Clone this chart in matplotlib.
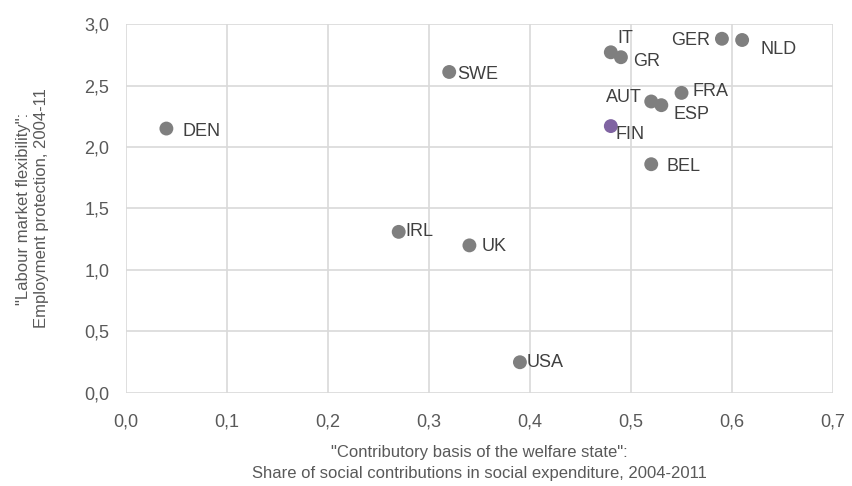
import matplotlib

matplotlib.use("Agg")
import matplotlib.pyplot as plt
from matplotlib.ticker import FuncFormatter

# values
countries = ["DEN", "SWE", "IRL", "UK", "USA", "IT", "GR", "GER", "NLD",
             "AUT", "FRA", "ESP", "FIN", "BEL"]
contrib_share = [0.04, 0.32, 0.27, 0.34, 0.39, 0.48, 0.49, 0.59, 0.61,
                 0.52, 0.55, 0.53, 0.48, 0.52]
employment_protection = [2.15, 2.61, 1.31, 1.20, 0.25, 2.77, 2.73, 2.88, 2.87,
                         2.37, 2.44, 2.34, 2.17, 1.86]
highlight = "FIN"

# label offsets in points, horizontal alignment
label_pos = {
    "DEN": (11.5, -2, "left"), "SWE": (6, -2, "left"), "IRL": (5, 0, "left"),
    "UK": (9, -1, "left"), "USA": (5, 0, "left"), "IT": (4.5, 10, "left"),
    "GR": (9, -3, "left"), "GER": (-8.5, -1.5, "right"), "NLD": (13, -7, "left"),
    "AUT": (-7, 3, "right"), "FRA": (8, 1, "left"), "ESP": (8.5, -6.5, "left"),
    "FIN": (3.5, -6, "left"), "BEL": (11, -1.5, "left"),
}

plt.rcParams["font.family"] = ["Liberation Sans", "DejaVu Sans"]

fig = plt.figure(figsize=(8.53, 4.86), dpi=100)
ax = fig.add_axes([0.1477, 0.1914, 0.8289, 0.7592])

colors = ["#8064a2" if c == highlight else "#7f7f7f" for c in countries]
ax.scatter(contrib_share, employment_protection, s=100, c=colors, zorder=3,
           linewidths=0)

for name, x, y in zip(countries, contrib_share, employment_protection):
    dx, dy, ha = label_pos[name]
    ax.annotate(name, (x, y), xytext=(dx, dy), textcoords="offset points",
                ha=ha, va="center", fontsize=13, color="#404040", zorder=4)

ax.set_xlim(0, 0.7)
ax.set_ylim(0, 3.0)
ax.set_xticks([i / 10 for i in range(8)])
ax.set_yticks([i / 2 for i in range(7)])
comma = FuncFormatter(lambda v, _: f"{v:.1f}".replace(".", ","))
ax.xaxis.set_major_formatter(comma)
ax.yaxis.set_major_formatter(comma)
ax.tick_params(length=0, labelsize=13, colors="#595959")
ax.tick_params(axis="x", pad=15)
ax.tick_params(axis="y", pad=12)
ax.grid(True, color="#d9d9d9", linewidth=1.2)
ax.set_axisbelow(True)
for spine in ax.spines.values():
    spine.set_visible(False)

ax.set_xlabel('"Contributory basis of the welfare state":\n'
              "Share of social contributions in social expenditure, 2004-2011",
              fontsize=12, color="#595959", labelpad=10, linespacing=1.5)
ax.set_ylabel('"Labour market flexibility":\nEmployment protection, 2004-11',
              fontsize=12, color="#595959", labelpad=25, linespacing=1.25)

fig.savefig("out.png", dpi=100)
